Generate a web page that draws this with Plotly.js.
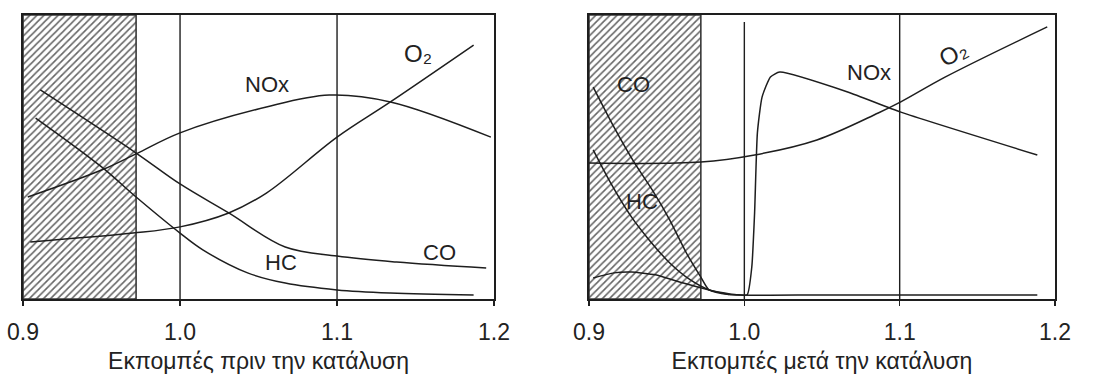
<!DOCTYPE html>
<html>
<head>
<meta charset="utf-8">
<script src="https://cdn.plot.ly/plotly-3.0.1.min.js"></script>
<style>html,body{margin:0;padding:0;background:#fff;}#chart{width:1103px;height:376px;}</style>
</head>
<body>
<div id="chart"></div>
<script>
// ---- Data: left panel (before catalysis) ----
const leftCO_x  = [0.911, 0.972, 1.000, 1.031, 1.067, 1.100, 1.138, 1.195];
const leftCO_y  = [73.6, 51.4, 40.5, 30.3, 18.3, 15.1, 13.0, 10.9];
const leftHC_x  = [0.908, 0.950, 0.972, 1.000, 1.0145, 1.043, 1.067, 1.100, 1.134, 1.187];
const leftHC_y  = [63.7, 46.5, 35.9, 23.2, 17.3, 9.2, 5.6, 3.2, 2.1, 1.4];
const leftNOx_x = [0.903, 0.950, 0.972, 1.000, 1.055, 1.095, 1.134, 1.198];
const leftNOx_y = [35.9, 45.4, 51.1, 58.5, 67.6, 71.8, 69.4, 57.0];
const leftO2_x  = [0.9046, 0.970, 1.000, 1.031, 1.055, 1.100, 1.134, 1.187];
const leftO2_y  = [20.1, 23.2, 25.4, 30.3, 37.3, 57.0, 69.4, 89.4];

// ---- Data: right panel (after catalysis) ----
const rightCO_x  = [0.9027, 0.916, 0.9293, 0.9407, 0.952, 0.9627, 0.972, 0.9773, 0.99, 1.05, 1.1886];
const rightCO_y  = [74.6, 60.6, 47.9, 38.4, 27.8, 16.2, 7.7, 3.2, 1.6, 1.4, 1.4];
const rightHC_x  = [0.9027, 0.914, 0.9273, 0.9387, 0.952, 0.9653, 0.9773, 0.99];
const rightHC_y  = [52.5, 40.8, 28.9, 20.8, 12.7, 6.7, 3.2, 1.6];
const rightNOx_x = [0.9027, 0.916, 0.9273, 0.9427, 0.9607, 0.9773, 0.9873, 0.995, 1.0018, 1.0048, 1.0066, 1.0084, 1.0114, 1.0168, 1.0228, 1.0665, 1.1007, 1.1886];
const rightNOx_y = [7.4, 9.2, 9.5, 8.5, 5.6, 3.2, 2.1, 1.5, 1.5, 11.3, 30.3, 58.5, 71.1, 78.2, 79.9, 72.9, 65.8, 50.7];
const rightO2_x  = [0.900, 0.972, 1.0066, 1.0467, 1.0862, 1.1007, 1.1295, 1.195];
const rightO2_y  = [47.9, 48.2, 50.7, 56.0, 65.5, 69.4, 78.2, 95.8];

// ---- Shared ----
const tickVals   = [0.9, 1.0, 1.1, 1.2];
const tickLabels = ["0.9", "1.0", "1.1", "1.2"];
const hatchX = [0.9, 0.972];
const titleLeft  = "Εκπομπές πριν την κατάλυση";
const titleRight = "Εκπομπές μετά την κατάλυση";
const curveLabels = ["NOx", "O₂", "CO", "HC"];

const ink = "#1e1e1e";
const FONT = "Liberation Sans, Arial, sans-serif";

function curve(x, y, xa, ya, smooth) {
  return {x: x, y: y, xaxis: xa, yaxis: ya, type: "scatter", mode: "lines",
          line: {color: ink, width: 1.5, shape: "spline", smoothing: smooth === undefined ? 1 : smooth},
          hoverinfo: "skip", showlegend: false};
}
function hatch(xa, ya) {
  return {x: [hatchX[0], hatchX[1], hatchX[1], hatchX[0], hatchX[0]],
          y: [0, 0, 100, 100, 0], xaxis: xa, yaxis: ya, type: "scatter", mode: "lines",
          fill: "toself", fillcolor: "rgba(255,255,255,0)",
          fillpattern: {shape: "/", fgcolor: "#666", bgcolor: "#fff", size: 5, solidity: 0.32},
          line: {color: "#3a3a3a", width: 1.6}, hoverinfo: "skip", showlegend: false};
}

const traces = [
  hatch("x", "y"), hatch("x2", "y2"),
  curve(leftCO_x, leftCO_y, "x", "y"),
  curve(leftHC_x, leftHC_y, "x", "y"),
  curve(leftNOx_x, leftNOx_y, "x", "y"),
  curve(leftO2_x, leftO2_y, "x", "y"),
  curve(rightCO_x, rightCO_y, "x2", "y2", 0.6),
  curve(rightHC_x, rightHC_y, "x2", "y2", 0.8),
  curve(rightNOx_x, rightNOx_y, "x2", "y2", 0.5),
  curve(rightO2_x, rightO2_y, "x2", "y2")
];

function xax(domain, title, anchor) {
  return {domain: domain, range: [0.9, 1.2], anchor: anchor, tickmode: "array",
          tickvals: tickVals, ticktext: tickLabels, ticks: "outside", ticklen: 5, tickwidth: 1.5,
          tickcolor: ink, showline: true, linecolor: ink, linewidth: 2, mirror: true,
          showgrid: false, zeroline: false, ticklabelstandoff: 6,
          tickfont: {family: FONT, size: 23, color: "#222"},
          title: {text: title, standoff: 9, font: {family: FONT, size: 23, color: "#222"}}};
}
function yax(anchor) {
  return {domain: [0.2048, 0.9601], range: [0, 100], anchor: anchor, showline: true,
          linecolor: ink, linewidth: 2, mirror: true, showgrid: false, zeroline: false,
          showticklabels: false, ticks: ""};
}

function lab(text, x, y, xr, yr, angle, size) {
  return {text: text, x: x, y: y, xref: xr, yref: yr, showarrow: false,
          textangle: angle || 0, font: {family: FONT, size: size || 22, color: "#222"}};
}

const layout = {
  width: 1103, height: 376, margin: {l: 0, r: 0, t: 0, b: 0},
  paper_bgcolor: "#fff", plot_bgcolor: "#fff",
  xaxis: xax([0.0209, 0.4479], titleLeft, "y"),
  yaxis: yax("x"),
  xaxis2: xax([0.534, 0.9565], titleRight, "y2"),
  yaxis2: yax("x2"),
  shapes: [
    {type: "line", xref: "x", yref: "y", x0: 1.0, x1: 1.0, y0: 0, y1: 100, line: {color: ink, width: 1.4}},
    {type: "line", xref: "x", yref: "y", x0: 1.1, x1: 1.1, y0: 0, y1: 100, line: {color: ink, width: 1.4}},
    {type: "line", xref: "x2", yref: "y2", x0: 1.0, x1: 1.0, y0: 0, y1: 97.5, line: {color: ink, width: 1.4}},
    {type: "line", xref: "x2", yref: "y2", x0: 1.1, x1: 1.1, y0: 0, y1: 100, line: {color: ink, width: 1.4}}
  ],
  annotations: [
    lab(curveLabels[0], 1.0554, 75.4, "x", "y"),
    lab(curveLabels[1], 1.1517, 86.6, "x", "y", 0, 24),
    lab(curveLabels[2], 1.165, 16.5, "x", "y"),
    lab(curveLabels[3], 1.0645, 13.0, "x", "y"),
    lab(curveLabels[0], 1.0802, 79.9, "x2", "y2"),
    lab(curveLabels[1], 1.1342, 86.6, "x2", "y2", -28, 24),
    lab(curveLabels[2], 0.9287, 75.4, "x2", "y2"),
    lab(curveLabels[3], 0.934, 34.2, "x2", "y2")
  ]
};

Plotly.newPlot("chart", traces, layout, {staticPlot: true, displayModeBar: false});
</script>
</body>
</html>
